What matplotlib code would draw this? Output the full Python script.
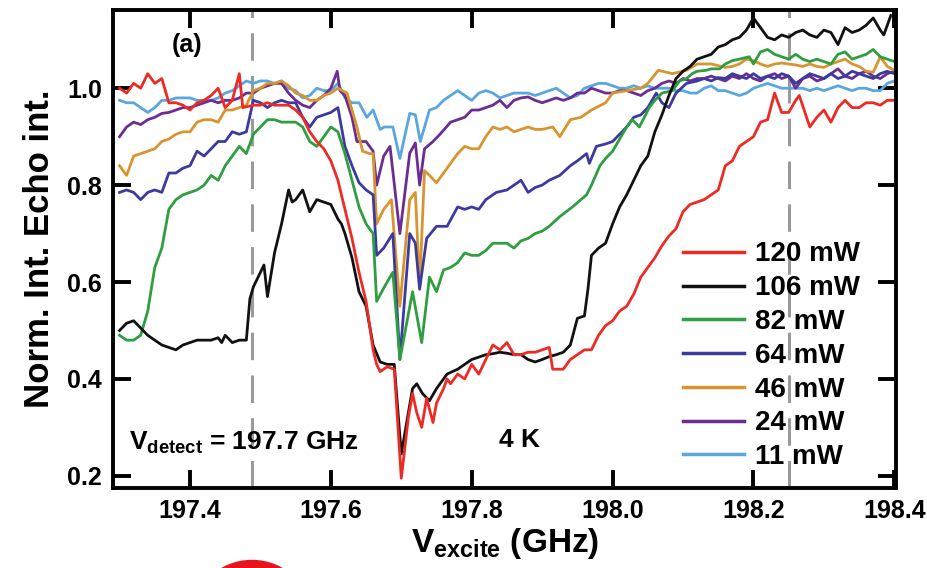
import numpy as np
import matplotlib
matplotlib.use('Agg')
import matplotlib.pyplot as plt
from matplotlib.patches import Ellipse

plt.rcParams['font.family'] = ['Liberation Sans', 'DejaVu Sans']
plt.rcParams['font.weight'] = 'bold'
plt.rcParams['axes.labelweight'] = 'bold'
plt.rcParams['mathtext.fontset'] = 'custom'
plt.rcParams['mathtext.rm'] = 'Liberation Sans:bold'
plt.rcParams['mathtext.bf'] = 'Liberation Sans:bold'
plt.rcParams['mathtext.it'] = 'Liberation Sans:bold'

##############################################################################
# Data: (excitation frequency [GHz], normalised echo)

p120 = [(197.30, 1.00), (197.31, 0.99), (197.32, 1.01), (197.33, 1.00),
        (197.34, 1.03), (197.35, 1.01), (197.36, 1.02), (197.37, 0.97),
        (197.38, 0.97), (197.39, 0.965), (197.40, 0.955), (197.41, 0.97),
        (197.42, 0.975), (197.43, 0.985), (197.44, 1.00), (197.45, 0.96),
        (197.46, 0.975), (197.47, 1.03), (197.475, 0.96), (197.49, 0.965),
        (197.50, 0.965), (197.51, 0.97), (197.52, 0.965), (197.53, 0.965),
        (197.54, 0.965), (197.55, 0.955), (197.56, 0.94), (197.57, 0.91),
        (197.58, 0.89), (197.59, 0.875), (197.60, 0.85), (197.61, 0.81),
        (197.62, 0.75), (197.63, 0.69), (197.64, 0.62), (197.65, 0.56),
        (197.66, 0.46), (197.665, 0.43), (197.67, 0.415), (197.68, 0.425),
        (197.69, 0.42), (197.70, 0.195), (197.71, 0.32), (197.716, 0.37),
        (197.722, 0.33), (197.729, 0.30), (197.736, 0.36), (197.745, 0.31),
        (197.75, 0.35), (197.76, 0.38), (197.765, 0.40), (197.77, 0.39),
        (197.78, 0.41), (197.79, 0.40), (197.80, 0.43), (197.81, 0.41),
        (197.82, 0.44), (197.83, 0.47), (197.84, 0.46), (197.85, 0.475),
        (197.86, 0.45), (197.87, 0.45), (197.88, 0.455), (197.89, 0.455),
        (197.90, 0.46), (197.91, 0.465), (197.915, 0.42), (197.93, 0.42),
        (197.94, 0.44), (197.95, 0.45), (197.96, 0.46), (197.97, 0.46),
        (197.98, 0.49), (197.99, 0.51), (198.00, 0.52), (198.01, 0.54),
        (198.02, 0.55), (198.03, 0.575), (198.04, 0.61), (198.05, 0.63),
        (198.06, 0.65), (198.07, 0.675), (198.08, 0.695), (198.09, 0.71),
        (198.10, 0.745), (198.11, 0.76), (198.12, 0.765), (198.13, 0.77),
        (198.14, 0.78), (198.15, 0.79), (198.16, 0.84), (198.17, 0.85),
        (198.18, 0.88), (198.19, 0.89), (198.20, 0.90), (198.21, 0.93),
        (198.22, 0.935), (198.23, 0.99), (198.24, 0.95), (198.25, 0.95),
        (198.26, 0.975), (198.265, 0.985), (198.28, 0.92), (198.29, 0.94),
        (198.30, 0.955), (198.31, 0.93), (198.32, 0.96), (198.33, 0.975),
        (198.34, 0.96), (198.35, 0.96), (198.36, 0.97), (198.37, 0.97),
        (198.38, 0.965), (198.39, 0.975), (198.40, 0.975)]

p106 = [(197.30, 0.50), (197.31, 0.515), (197.32, 0.52), (197.33, 0.505),
        (197.34, 0.49), (197.35, 0.48), (197.36, 0.47), (197.37, 0.465),
        (197.38, 0.46), (197.39, 0.47), (197.40, 0.475), (197.41, 0.48),
        (197.42, 0.48), (197.43, 0.48), (197.44, 0.485), (197.445, 0.475),
        (197.45, 0.49), (197.46, 0.475), (197.47, 0.48), (197.48, 0.48),
        (197.485, 0.565), (197.49, 0.59), (197.50, 0.62), (197.505, 0.635),
        (197.51, 0.57), (197.52, 0.66), (197.53, 0.72), (197.54, 0.79),
        (197.545, 0.765), (197.55, 0.77), (197.56, 0.79), (197.57, 0.745),
        (197.58, 0.77), (197.59, 0.765), (197.60, 0.76), (197.61, 0.73),
        (197.615, 0.72), (197.62, 0.70), (197.63, 0.65), (197.64, 0.58),
        (197.65, 0.55), (197.66, 0.47), (197.67, 0.435), (197.68, 0.43),
        (197.69, 0.43), (197.70, 0.245), (197.71, 0.33), (197.716, 0.38),
        (197.722, 0.39), (197.73, 0.37), (197.74, 0.355), (197.75, 0.38),
        (197.765, 0.41), (197.78, 0.42), (197.79, 0.43), (197.80, 0.44),
        (197.81, 0.445), (197.82, 0.45), (197.83, 0.452), (197.84, 0.455),
        (197.85, 0.453), (197.86, 0.45), (197.87, 0.45), (197.88, 0.44),
        (197.89, 0.435), (197.90, 0.44), (197.91, 0.446), (197.92, 0.45),
        (197.93, 0.455), (197.94, 0.47), (197.95, 0.525), (197.96, 0.53),
        (197.965, 0.585), (197.97, 0.655), (197.98, 0.67), (197.99, 0.68),
        (198.00, 0.72), (198.01, 0.755), (198.02, 0.78), (198.03, 0.81),
        (198.04, 0.84), (198.05, 0.86), (198.06, 0.91), (198.07, 0.945),
        (198.08, 0.985), (198.09, 1.02), (198.10, 1.035), (198.11, 1.045),
        (198.12, 1.06), (198.13, 1.065), (198.14, 1.07), (198.15, 1.085),
        (198.16, 1.09), (198.17, 1.10), (198.18, 1.105), (198.19, 1.12),
        (198.20, 1.145), (198.21, 1.125), (198.22, 1.105), (198.23, 1.10),
        (198.24, 1.11), (198.25, 1.105), (198.26, 1.115), (198.27, 1.12),
        (198.28, 1.11), (198.29, 1.105), (198.30, 1.12), (198.31, 1.115),
        (198.32, 1.09), (198.33, 1.125), (198.34, 1.115), (198.35, 1.12),
        (198.36, 1.13), (198.37, 1.145), (198.38, 1.12), (198.385, 1.11),
        (198.395, 1.15)]

p82 = [(197.30, 0.49), (197.31, 0.48), (197.32, 0.48), (197.33, 0.49),
       (197.34, 0.54), (197.35, 0.63), (197.36, 0.67), (197.365, 0.71),
       (197.37, 0.75), (197.38, 0.77), (197.39, 0.78), (197.40, 0.785),
       (197.41, 0.79), (197.42, 0.80), (197.43, 0.82), (197.44, 0.81),
       (197.45, 0.84), (197.46, 0.86), (197.47, 0.88), (197.48, 0.865),
       (197.49, 0.905), (197.50, 0.92), (197.51, 0.935), (197.52, 0.935),
       (197.53, 0.93), (197.54, 0.93), (197.55, 0.93), (197.56, 0.92),
       (197.57, 0.89), (197.58, 0.88), (197.59, 0.90), (197.60, 0.92),
       (197.61, 0.91), (197.62, 0.865), (197.63, 0.81), (197.64, 0.755),
       (197.65, 0.72), (197.66, 0.70), (197.665, 0.56), (197.676, 0.59),
       (197.688, 0.62), (197.698, 0.44), (197.716, 0.58), (197.729, 0.475),
       (197.74, 0.61), (197.75, 0.58), (197.76, 0.625), (197.77, 0.63),
       (197.78, 0.64), (197.79, 0.66), (197.80, 0.655), (197.81, 0.655),
       (197.82, 0.665), (197.83, 0.68), (197.84, 0.68), (197.85, 0.68),
       (197.86, 0.67), (197.87, 0.685), (197.88, 0.69), (197.89, 0.70),
       (197.90, 0.705), (197.91, 0.715), (197.925, 0.735), (197.943, 0.755),
       (197.963, 0.78), (197.97, 0.80), (197.982, 0.84), (197.99, 0.855),
       (198.00, 0.87), (198.01, 0.895), (198.02, 0.92), (198.028, 0.935),
       (198.038, 0.92), (198.052, 0.96), (198.06, 0.975), (198.07, 0.99),
       (198.085, 0.995), (198.095, 1.015), (198.105, 1.02), (198.113, 1.03),
       (198.12, 1.035), (198.133, 1.037), (198.14, 1.04), (198.152, 1.04),
       (198.16, 1.05), (198.17, 1.057), (198.18, 1.06), (198.194, 1.065),
       (198.20, 1.05), (198.21, 1.075), (198.22, 1.08), (198.23, 1.07),
       (198.24, 1.065), (198.25, 1.06), (198.26, 1.07), (198.27, 1.06),
       (198.28, 1.055), (198.29, 1.06), (198.30, 1.055), (198.31, 1.05),
       (198.32, 1.07), (198.33, 1.075), (198.34, 1.06), (198.35, 1.065),
       (198.36, 1.07), (198.37, 1.08), (198.38, 1.065), (198.39, 1.06),
       (198.40, 1.055)]

p64 = [(197.30, 0.785), (197.31, 0.79), (197.32, 0.785), (197.33, 0.77),
       (197.34, 0.785), (197.35, 0.79), (197.36, 0.785), (197.37, 0.825),
       (197.38, 0.825), (197.39, 0.835), (197.40, 0.84), (197.41, 0.87),
       (197.42, 0.86), (197.43, 0.875), (197.44, 0.89), (197.45, 0.89),
       (197.46, 0.91), (197.47, 0.905), (197.48, 0.91), (197.49, 0.975),
       (197.50, 0.97), (197.51, 0.96), (197.52, 0.97), (197.53, 0.975),
       (197.54, 0.97), (197.55, 0.97), (197.56, 0.94), (197.57, 0.92),
       (197.58, 0.94), (197.59, 0.945), (197.60, 0.95), (197.61, 0.96),
       (197.62, 0.88), (197.63, 0.84), (197.64, 0.805), (197.65, 0.79),
       (197.66, 0.78), (197.665, 0.655), (197.675, 0.67), (197.688, 0.70),
       (197.698, 0.44), (197.712, 0.70), (197.72, 0.68), (197.726, 0.585),
       (197.736, 0.69), (197.75, 0.715), (197.765, 0.715), (197.78, 0.755),
       (197.79, 0.75), (197.80, 0.755), (197.81, 0.75), (197.82, 0.77),
       (197.835, 0.785), (197.85, 0.79), (197.87, 0.81), (197.88, 0.785),
       (197.89, 0.795), (197.90, 0.80), (197.91, 0.81), (197.925, 0.82),
       (197.94, 0.84), (197.95, 0.85), (197.963, 0.865), (197.967, 0.845),
       (197.977, 0.88), (197.99, 0.885), (198.00, 0.89), (198.01, 0.905),
       (198.02, 0.92), (198.03, 0.94), (198.04, 0.945), (198.05, 0.96),
       (198.062, 0.99), (198.07, 0.97), (198.08, 0.96), (198.09, 0.99),
       (198.105, 1.01), (198.12, 1.015), (198.13, 1.02), (198.14, 1.015),
       (198.15, 1.022), (198.16, 1.02), (198.17, 1.03), (198.18, 1.025),
       (198.19, 1.02), (198.20, 1.03), (198.21, 1.02), (198.22, 1.025),
       (198.23, 1.02), (198.24, 1.03), (198.25, 1.025), (198.26, 1.01),
       (198.27, 1.02), (198.28, 1.03), (198.29, 1.025), (198.30, 1.02),
       (198.31, 1.03), (198.32, 1.02), (198.33, 1.025), (198.34, 1.035),
       (198.35, 1.03), (198.36, 1.025), (198.37, 1.02), (198.38, 1.03),
       (198.39, 1.035), (198.40, 1.03)]

p46 = [(197.30, 0.84), (197.31, 0.82), (197.32, 0.86), (197.33, 0.865),
       (197.34, 0.87), (197.35, 0.875), (197.36, 0.89), (197.37, 0.895),
       (197.38, 0.905), (197.39, 0.91), (197.40, 0.91), (197.41, 0.93),
       (197.42, 0.935), (197.43, 0.935), (197.44, 0.93), (197.45, 0.955),
       (197.46, 0.955), (197.47, 0.96), (197.48, 0.965), (197.49, 0.995),
       (197.50, 1.00), (197.51, 1.01), (197.52, 1.01), (197.53, 1.015),
       (197.54, 1.005), (197.55, 0.99), (197.56, 0.985), (197.57, 0.975),
       (197.58, 0.975), (197.59, 0.985), (197.60, 0.99), (197.61, 1.00),
       (197.623, 0.99), (197.637, 0.92), (197.645, 0.87), (197.655, 0.865),
       (197.66, 0.865), (197.665, 0.72), (197.675, 0.75), (197.686, 0.77),
       (197.698, 0.55), (197.712, 0.77), (197.72, 0.785), (197.726, 0.59),
       (197.733, 0.83), (197.74, 0.82), (197.75, 0.805), (197.76, 0.825),
       (197.77, 0.845), (197.78, 0.865), (197.79, 0.88), (197.80, 0.875),
       (197.81, 0.875), (197.82, 0.90), (197.83, 0.92), (197.84, 0.915),
       (197.85, 0.92), (197.86, 0.91), (197.87, 0.915), (197.88, 0.92),
       (197.89, 0.915), (197.90, 0.915), (197.915, 0.92), (197.925, 0.90),
       (197.94, 0.935), (197.955, 0.94), (197.97, 0.955), (197.99, 0.97),
       (198.00, 0.99), (198.02, 0.995), (198.04, 1.00), (198.05, 1.01),
       (198.065, 1.037), (198.085, 1.03), (198.105, 1.037), (198.12, 1.05),
       (198.14, 1.05), (198.16, 1.043), (198.17, 1.045), (198.18, 1.05),
       (198.19, 1.06), (198.20, 1.057), (198.21, 1.05), (198.22, 1.045),
       (198.23, 1.05), (198.24, 1.052), (198.25, 1.05), (198.26, 1.048),
       (198.27, 1.045), (198.28, 1.05), (198.29, 1.045), (198.30, 1.043),
       (198.31, 1.05), (198.32, 1.055), (198.33, 1.06), (198.34, 1.05),
       (198.35, 1.045), (198.36, 1.035), (198.37, 1.033), (198.38, 1.065),
       (198.39, 1.045), (198.40, 1.037)]

p24 = [(197.30, 0.90), (197.31, 0.92), (197.32, 0.93), (197.33, 0.925),
       (197.34, 0.935), (197.35, 0.94), (197.36, 0.948), (197.37, 0.95),
       (197.38, 0.955), (197.39, 0.96), (197.40, 0.96), (197.41, 0.965),
       (197.42, 0.97), (197.43, 0.975), (197.44, 0.97), (197.45, 0.975),
       (197.46, 0.975), (197.47, 0.98), (197.48, 0.99), (197.49, 0.99),
       (197.50, 1.00), (197.51, 1.005), (197.52, 1.01), (197.53, 1.01),
       (197.54, 0.99), (197.55, 0.975), (197.56, 0.965), (197.57, 0.96),
       (197.58, 0.975), (197.59, 0.985), (197.60, 1.00), (197.609, 1.035),
       (197.613, 0.995), (197.62, 0.985), (197.63, 0.94), (197.637, 0.89),
       (197.65, 0.89), (197.66, 0.87), (197.665, 0.80), (197.675, 0.86),
       (197.684, 0.88), (197.698, 0.70), (197.712, 0.866), (197.72, 0.887),
       (197.726, 0.80), (197.733, 0.875), (197.745, 0.89), (197.755, 0.905),
       (197.77, 0.93), (197.78, 0.935), (197.79, 0.94), (197.80, 0.955),
       (197.81, 0.955), (197.82, 0.96), (197.83, 0.965), (197.84, 0.975),
       (197.85, 0.96), (197.86, 0.975), (197.87, 0.98), (197.88, 0.982),
       (197.89, 0.975), (197.90, 0.97), (197.91, 0.975), (197.92, 0.98),
       (197.93, 0.975), (197.94, 0.98), (197.95, 0.99), (197.96, 0.99),
       (197.97, 1.00), (197.98, 0.995), (197.99, 0.99), (198.00, 0.99),
       (198.01, 0.995), (198.02, 0.995), (198.03, 0.99), (198.04, 0.985),
       (198.05, 0.995), (198.06, 1.00), (198.07, 1.01), (198.08, 1.015),
       (198.09, 1.01), (198.10, 1.02), (198.11, 1.015), (198.12, 1.02),
       (198.13, 1.02), (198.14, 1.025), (198.15, 1.02), (198.16, 1.015),
       (198.17, 1.025), (198.18, 1.02), (198.19, 1.03), (198.20, 1.02),
       (198.21, 1.015), (198.22, 1.025), (198.23, 1.03), (198.24, 1.02),
       (198.25, 1.025), (198.26, 1.00), (198.27, 1.02), (198.28, 1.025),
       (198.29, 1.015), (198.30, 1.02), (198.31, 1.03), (198.32, 1.04),
       (198.33, 1.025), (198.34, 1.02), (198.35, 1.03), (198.36, 1.035),
       (198.37, 1.025), (198.38, 1.02), (198.39, 1.03), (198.40, 1.035)]

p11 = [(197.30, 0.975), (197.31, 0.97), (197.32, 0.97), (197.33, 0.96),
       (197.34, 0.95), (197.35, 0.96), (197.36, 0.975), (197.37, 0.975),
       (197.38, 0.98), (197.39, 0.98), (197.40, 0.98), (197.41, 0.975),
       (197.42, 0.975), (197.43, 0.975), (197.44, 0.98), (197.45, 0.99),
       (197.46, 0.995), (197.47, 1.005), (197.48, 1.015), (197.49, 1.01),
       (197.50, 1.015), (197.51, 1.015), (197.52, 1.01), (197.53, 1.015),
       (197.54, 1.00), (197.55, 0.995), (197.56, 0.98), (197.57, 0.985),
       (197.58, 1.00), (197.59, 0.995), (197.60, 0.995), (197.61, 1.01),
       (197.62, 0.98), (197.63, 0.97), (197.64, 0.97), (197.651, 0.94),
       (197.66, 0.955), (197.67, 0.915), (197.676, 0.92), (197.688, 0.92),
       (197.698, 0.855), (197.712, 0.948), (197.72, 0.945), (197.727, 0.89),
       (197.74, 0.955), (197.75, 0.96), (197.76, 0.975), (197.77, 0.985),
       (197.78, 0.995), (197.79, 0.985), (197.80, 0.975), (197.81, 0.99),
       (197.82, 0.995), (197.83, 0.99), (197.84, 0.98), (197.85, 0.985),
       (197.86, 0.99), (197.87, 0.99), (197.88, 0.99), (197.89, 0.985),
       (197.90, 0.99), (197.91, 0.995), (197.92, 1.00), (197.93, 0.99),
       (197.94, 0.98), (197.95, 0.985), (197.96, 1.00), (197.97, 1.005),
       (197.98, 1.01), (197.99, 1.01), (198.00, 1.005), (198.01, 1.00),
       (198.02, 1.00), (198.03, 1.005), (198.04, 1.00), (198.05, 1.005),
       (198.06, 1.00), (198.07, 1.00), (198.08, 1.00), (198.09, 0.995),
       (198.10, 0.995), (198.11, 0.99), (198.12, 0.99), (198.13, 1.00),
       (198.14, 1.005), (198.15, 0.995), (198.16, 0.995), (198.17, 0.99),
       (198.18, 0.985), (198.19, 0.99), (198.20, 1.00), (198.21, 1.005),
       (198.22, 1.01), (198.23, 1.005), (198.24, 1.00), (198.25, 1.00),
       (198.26, 1.00), (198.27, 1.00), (198.28, 0.995), (198.29, 1.00),
       (198.30, 0.995), (198.31, 1.00), (198.32, 1.005), (198.33, 1.00),
       (198.34, 0.995), (198.35, 1.00), (198.36, 1.00), (198.37, 0.995),
       (198.38, 0.995), (198.39, 1.01), (198.40, 1.015)]

labels = ['120 mW', '106 mW', '82 mW', '64 mW', '46 mW', '24 mW', '11 mW']
colors = ['#ee2a24', '#111111', '#2e9e40', '#3c3a9e', '#d8952f',
          '#6b2d92', '#5aa6de']
series = [p120, p106, p82, p64, p46, p24, p11]

f_dashed = [197.488, 198.25]
xticks = [197.4, 197.6, 197.8, 198.0, 198.2, 198.4]
yticks = [0.2, 0.4, 0.6, 0.8, 1.0]

##############################################################################
# Plot

fig = plt.figure(figsize=(9.28, 5.68), dpi=100)
ax = fig.add_axes([0.122, 0.141, 0.844, 0.841])

for f in f_dashed:
    ax.axvline(f, color='#9a9a9a', lw=2.2, dashes=(9, 5), zorder=1)

# draw bottom-up so that the red/black traces end up beneath the others
for pts, name, col in list(zip(series, labels, colors))[::-1]:
    x, y = np.array(pts).T
    ax.plot(x, y, color=col, lw=2.0, label=name, zorder=2)

ax.set_xlim(197.291, 198.403)
ax.set_ylim(0.175, 1.161)
ax.set_xticks(xticks)
ax.set_xticklabels(['%.1f' % t for t in xticks])
ax.set_yticks(yticks)
ax.set_yticklabels(['%.1f' % t for t in yticks])
ax.tick_params(direction='in', length=13, width=2.8, labelsize=18,
               top=True, right=True, pad=8)
for sp in ax.spines.values():
    sp.set_linewidth(2.8)

ax.set_ylabel('Norm. Int. Echo int.', fontsize=25, fontweight='bold',
              labelpad=8)
ax.set_xlabel(r'$\mathrm{V}_{\mathrm{excite}}$ (GHz)', fontsize=24,
              fontweight='bold', labelpad=2)

ax.text(0.075, 0.927, '(a)', transform=ax.transAxes, fontsize=18,
        ha='left', va='center')
ax.text(0.02, 0.095, r'$\mathrm{V}_{\mathrm{detect}}$ = 197.7 GHz',
        transform=ax.transAxes, fontsize=19, ha='left', va='center')
ax.text(0.493, 0.10, '4 K', transform=ax.transAxes, fontsize=19,
        ha='left', va='center')

handles, names = ax.get_legend_handles_labels()
leg = ax.legend(handles[::-1], names[::-1], loc='upper left',
                bbox_to_anchor=(0.71, 0.545), frameon=False, fontsize=20,
                handlelength=2.2, handletextpad=0.4, labelspacing=0.28,
                borderpad=0)
for line in leg.get_lines():
    line.set_linewidth(2.5)

# red marker partially visible at the bottom edge
fig.patches.append(Ellipse((252 / 928, 1 - 622 / 568), 123 / 928, 123 / 568,
                           transform=fig.transFigure, color='#e8141b',
                           zorder=0))

fig.savefig('out.png', dpi=100)
